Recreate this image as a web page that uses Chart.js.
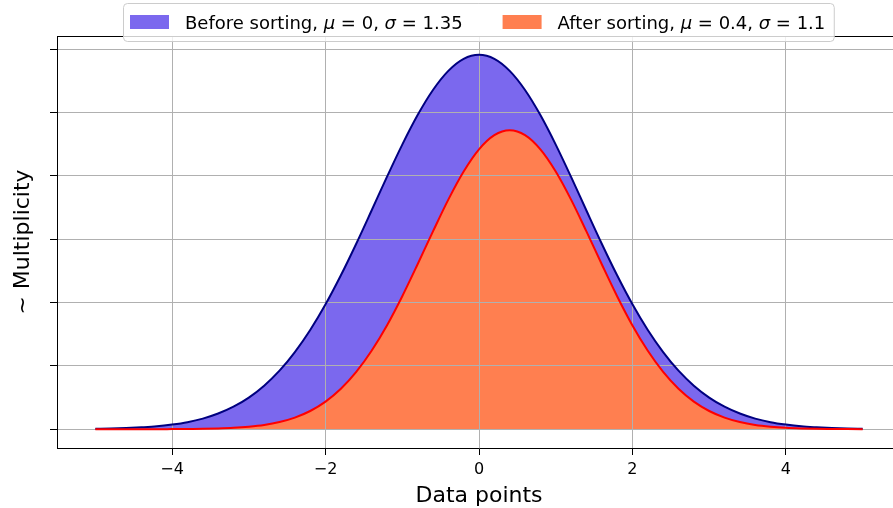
<!DOCTYPE html>
<html><head><meta charset="utf-8">
<script src="https://cdn.jsdelivr.net/npm/chart.js@4/dist/chart.umd.min.js"></script>
<style>
html,body{margin:0;padding:0;background:#fff;overflow:hidden;}
#wrap{position:relative;width:902px;height:508px;}
</style></head><body>
<div id="wrap"><canvas id="c" width="902" height="508"></canvas></div>
<script>
// ---- data ----
const xValues = [-5,-4.8,-4.6,-4.4,-4.2,-4,-3.8,-3.6,-3.4,-3.2,-3,-2.8,-2.6,-2.4,-2.2,-2,-1.8,-1.6,-1.4,-1.2,-1,-0.8,-0.6,-0.4,-0.2,0,0.2,0.4,0.6,0.8,1,1.2,1.4,1.6,1.8,2,2.2,2.4,2.6,2.8,3,3.2,3.4,3.6,3.8,4,4.2,4.4,4.6,4.8,5];
const beforeValues = [0.0003,0.0005,0.0009,0.0015,0.0023,0.0037,0.0056,0.0084,0.0124,0.0178,0.0250,0.0344,0.0462,0.0609,0.0783,0.0986,0.1215,0.1464,0.1726,0.1991,0.2246,0.2479,0.2677,0.2828,0.2923,0.2955,0.2923,0.2828,0.2677,0.2479,0.2246,0.1991,0.1726,0.1464,0.1215,0.0986,0.0783,0.0609,0.0462,0.0344,0.0250,0.0178,0.0124,0.0084,0.0056,0.0037,0.0023,0.0015,0.0009,0.0005,0.0003];
const afterValues = [0.0000,0.0000,0.0000,0.0000,0.0000,0.0001,0.0002,0.0003,0.0006,0.0011,0.0020,0.0034,0.0057,0.0092,0.0144,0.0218,0.0319,0.0452,0.0619,0.0819,0.1050,0.1302,0.1561,0.1812,0.2034,0.2209,0.2321,0.2360,0.2321,0.2209,0.2034,0.1812,0.1561,0.1302,0.1050,0.0819,0.0619,0.0452,0.0319,0.0218,0.0144,0.0092,0.0057,0.0034,0.0020,0.0011,0.0006,0.0003,0.0002,0.0001,0.0000];
const seriesLabels = ['Before sorting, μ = 0, σ = 1.35', 'After sorting, μ = 0.4, σ = 1.1'];
const xTickValues = [-4,-2,0,2,4];
const yTickValues = [0,0.05,0.1,0.15,0.2,0.25,0.3];
const xAxisTitle = 'Data points';
const yAxisTitle = '~ Multiplicity';
const xLimits = [-5.5, 5.5];
const yLimits = [-0.0148, 0.3103];

Chart.defaults.font.family = 'DejaVu Sans';
Chart.defaults.color = '#000';

function pts(vals){ return xValues.map((x,i)=>({x:x, y:vals[i]})); }

const mplLegend = {
  id: 'mplLegend',
  afterDraw(chart){
    const ctx = chart.ctx, a = chart.chartArea;
    ctx.save();
    // top spine
    ctx.strokeStyle = '#000'; ctx.lineWidth = 1;
    ctx.beginPath(); ctx.moveTo(a.left, Math.round(a.top)+0.5); ctx.lineTo(a.right, Math.round(a.top)+0.5); ctx.stroke();
    // legend
    const fs = 18;
    const normal = fs + 'px "DejaVu Sans"', ital = 'italic ' + fs + 'px "DejaVu Sans"';
    function segs(label){ return label.split(/([μσ])/).filter(s=>s.length); }
    function width(label){ let w=0; segs(label).forEach(s=>{ ctx.font = /^[μσ]$/.test(s)?ital:normal; w+=ctx.measureText(s).width; }); return w; }
    const boxX = 123.5, boxY = 3.5, boxH = 38;
    const patchW = 39, patchH = 14, patchGap = 16, colGap = 40;
    const items = chart.data.datasets.map(d=>({label:d.label, color:d.backgroundColor}));
    let x = 130; const layout = [];
    items.forEach((it,i)=>{ const w = width(it.label); layout.push({px:x, tx:x+patchW+patchGap, w:w}); x = x+patchW+patchGap+w+colGap; });
    const last = layout[layout.length-1];
    const boxW = last.tx + last.w + 9 - boxX;
    const r = 4;
    ctx.beginPath();
    ctx.moveTo(boxX+r, boxY); ctx.lineTo(boxX+boxW-r, boxY); ctx.arcTo(boxX+boxW, boxY, boxX+boxW, boxY+r, r);
    ctx.lineTo(boxX+boxW, boxY+boxH-r); ctx.arcTo(boxX+boxW, boxY+boxH, boxX+boxW-r, boxY+boxH, r);
    ctx.lineTo(boxX+r, boxY+boxH); ctx.arcTo(boxX, boxY+boxH, boxX, boxY+boxH-r, r);
    ctx.lineTo(boxX, boxY+r); ctx.arcTo(boxX, boxY, boxX+r, boxY, r); ctx.closePath();
    ctx.fillStyle = 'rgba(255,255,255,0.8)'; ctx.fill();
    ctx.strokeStyle = '#cccccc'; ctx.lineWidth = 1; ctx.stroke();
    items.forEach((it,i)=>{
      const L = layout[i];
      ctx.fillStyle = it.color; ctx.fillRect(L.px, 15, patchW, patchH);
      let tx = L.tx;
      ctx.fillStyle = '#000'; ctx.textBaseline = 'alphabetic'; ctx.textAlign = 'left';
      segs(it.label).forEach(s=>{ ctx.font = /^[μσ]$/.test(s)?ital:normal; ctx.fillText(s, tx, 28.5); tx += ctx.measureText(s).width; });
    });
    ctx.restore();
  }
};

const gridOpts = { color:'#b0b0b0', lineWidth:1, drawTicks:true, tickLength:7, tickColor:'#000', tickWidth:1 };

new Chart(document.getElementById('c'), {
  type: 'line',
  data: {
    datasets: [
      { label: seriesLabels[0], data: pts(beforeValues), borderColor:'#000080', backgroundColor:'#7b68ee', borderWidth:2, fill:'origin', pointRadius:0, cubicInterpolationMode:'monotone', order:1 },
      { label: seriesLabels[1], data: pts(afterValues), borderColor:'#ff0000', backgroundColor:'#ff7f50', borderWidth:2, fill:'origin', pointRadius:0, cubicInterpolationMode:'monotone', order:0 }
    ]
  },
  options: {
    responsive:false, animation:false, events:[],
    layout:{ padding:{ top:36, right:1, left:0, bottom:0 } },
    plugins:{ legend:{display:false}, tooltip:{enabled:false}, filler:{ drawTime:'beforeDraw' } },
    scales:{
      x:{ type:'linear', min:xLimits[0], max:xLimits[1],
          afterFit(s){ s.height = 60; },
          afterBuildTicks(s){ s.ticks = xTickValues.map(v=>({value:v})); },
          ticks:{ font:{size:16}, color:'#000', padding:5, maxRotation:0, autoSkip:false,
                  callback:(v)=> v<0 ? '\u2212'+Math.abs(v) : String(v) },
          grid: gridOpts, border:{color:'#000', width:1},
          title:{ display:true, text:xAxisTitle, font:{size:22, lineHeight:1.1}, color:'#000', padding:{top:0,bottom:0} } },
      y:{ type:'linear', min:yLimits[0], max:yLimits[1],
          afterFit(s){ s.width = 57; },
          afterBuildTicks(s){ s.ticks = yTickValues.map(v=>({value:v})); },
          ticks:{ display:false },
          grid: gridOpts, border:{color:'#000', width:1},
          title:{ display:true, text:yAxisTitle, font:{size:22, lineHeight:1.2}, color:'#000', padding:{top:10,bottom:0} } }
    }
  },
  plugins:[mplLegend]
});
</script>
</body></html>
